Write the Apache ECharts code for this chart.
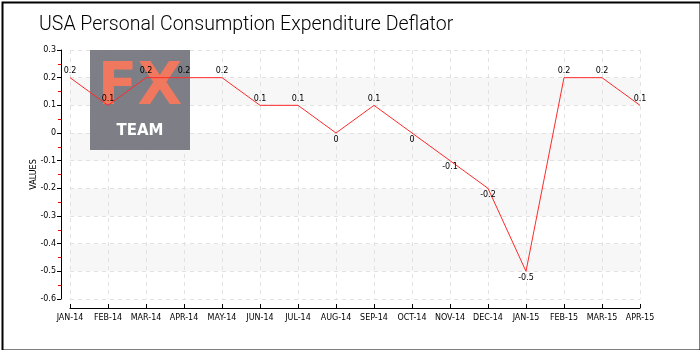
<!DOCTYPE html>
<html>
<head>
<meta charset="utf-8">
<script src="https://cdn.jsdelivr.net/npm/echarts@6/dist/echarts.min.js"></script>
<style>
  html, body { margin: 0; padding: 0; background: #fff; }
  #main { width: 700px; height: 350px; }
</style>
</head>
<body>
<div id="main"></div>
<script>
// data
var months = ['JAN-14', 'FEB-14', 'MAR-14', 'APR-14', 'MAY-14', 'JUN-14', 'JUL-14', 'AUG-14',
    'SEP-14', 'OCT-14', 'NOV-14', 'DEC-14', 'JAN-15', 'FEB-15', 'MAR-15', 'APR-15'];
var values = [0.2, 0.1, 0.2, 0.2, 0.2, 0.1, 0.1, 0, 0.1, 0, -0.1, -0.2, -0.5, 0.2, 0.2, 0.1];
var yMin = -0.6, yMax = 0.3, yStep = 0.1;

var myChart = echarts.init(document.getElementById('main'));

var labelFont = 'DejaVu Sans';

var option = {
    backgroundColor: '#fff',
    animation: false,
    title: {
        text: 'USA Personal Consumption Expenditure Deflator',
        left: 34,
        top: 10,
        textStyle: { fontFamily: 'Roboto', fontWeight: 300, fontSize: 19.5, color: '#000' }
    },
    grid: { left: 70, right: 60, top: 50, bottom: 51 },
    graphic: [
        { // outer frame
            type: 'rect', left: 0, top: 0, z: 100, silent: true,
            shape: { x: 1, y: 1, width: 698, height: 348 },
            style: { fill: 'none', stroke: '#000', lineWidth: 2 }
        },
        { // logo box
            type: 'group', left: 90, top: 50, z: 3,
            children: [
                { type: 'rect', z: 3, shape: { width: 100, height: 100 }, style: { fill: 'rgba(118,118,126,0.94)' } },
                { type: 'text', z: 4, x: 50, y: 10, style: { text: 'FX', fill: '#f0785f', font: 'bold 58px "DejaVu Sans"', align: 'center' } },
                { type: 'text', z: 4, x: 50, y: 74, style: { text: 'TEAM', fill: '#fff', font: 'bold 15px "DejaVu Sans"', align: 'center' } }
            ]
        }
    ],
    xAxis: {
        type: 'category',
        data: months,
        boundaryGap: false,
        offset: 9,
        axisLine: { onZero: false, lineStyle: { color: '#000', width: 1 } },
        axisTick: { show: true, inside: true, length: 4, lineStyle: { color: '#000' } },
        axisLabel: { color: '#000', fontSize: 8, fontFamily: labelFont, margin: 6, interval: 0 },
        splitLine: { show: true, lineStyle: { color: '#e2e2e2', type: [4, 4] } }
    },
    yAxis: {
        type: 'value',
        min: yMin,
        max: yMax,
        interval: yStep,
        offset: 9,
        name: 'VALUES',
        nameLocation: 'middle',
        nameGap: 23,
        nameMoveOverlap: false,
        nameTextStyle: { fontSize: 8, fontFamily: labelFont, color: '#000' },
        axisLine: { show: true, lineStyle: { color: '#000', width: 1 } },
        axisTick: { show: true, length: 4, lineStyle: { color: '#000' } },
        minorTick: { show: true, splitNumber: 2, length: 3, lineStyle: { color: '#e00' } },
        axisLabel: {
            color: '#000', fontSize: 8, fontFamily: labelFont, margin: 5,
            formatter: function (v) { return String(Math.round(v * 10) / 10); }
        },
        splitLine: { show: true, lineStyle: { color: '#e2e2e2', type: [4, 4] } },
        splitArea: { show: true, areaStyle: { color: ['rgba(255,255,255,0)', '#f7f7f7'] } }
    },
    series: [
        {
            type: 'line',
            data: values.map(function (v) {
                return { value: v, label: { show: true, position: v > 0 ? 'top' : 'bottom' } };
            }),
            z: 6,
            showSymbol: true,
            symbol: 'circle',
            symbolSize: 1,
            itemStyle: { color: 'rgba(0,0,0,0)' },
            lineStyle: { color: '#ff2a2a', width: 1 },
            label: {
                show: true,
                color: '#000',
                fontSize: 8,
                fontFamily: labelFont,
                distance: 2
            }
        }
    ]
};

myChart.setOption(option);
</script>
</body>
</html>
